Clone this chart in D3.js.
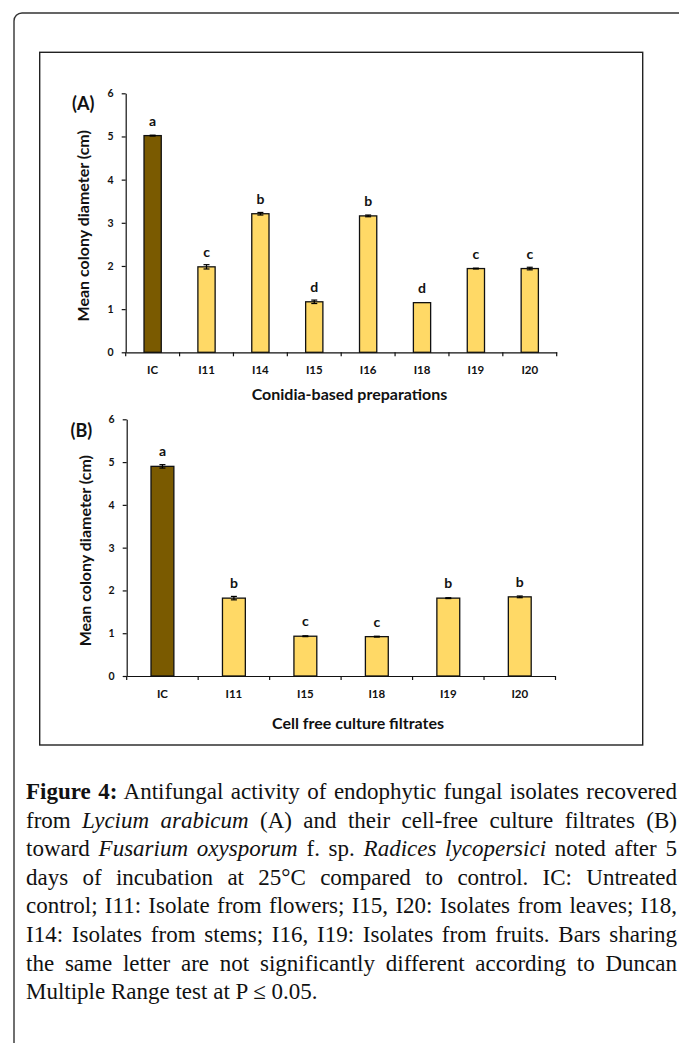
<!DOCTYPE html>
<html>
<head>
<meta charset="utf-8">
<script src="https://cdn.jsdelivr.net/npm/d3@7"></script>
<style>
  body { margin: 0; background: #fff; }
  #wrap { position: relative; width: 679px; height: 1043px; overflow: hidden; }
  svg { position: absolute; left: 0; top: 0; }
  .caption { position: absolute; left: 26px; top: 778px; width: 651px;
    font-family: "Liberation Serif", "Times New Roman", serif; font-size: 23px; color: #111; }
  .caption div { line-height: 28.6px; height: 28.6px; white-space: nowrap;
    text-align: justify; text-align-last: justify; }
  .caption div.last { text-align: left; text-align-last: left; }
</style>
</head>
<body>
<div id="wrap">
  <svg id="chart" width="679" height="1043"></svg>
  <div class="caption">
    <div><b>Figure 4:</b> Antifungal activity of endophytic fungal isolates recovered</div>
    <div>from <i>Lycium arabicum</i> (A) and their cell-free culture filtrates (B)</div>
    <div>toward <i>Fusarium oxysporum</i> f. sp. <i>Radices lycopersici</i> noted after 5</div>
    <div>days of incubation at 25°C compared to control. IC: Untreated</div>
    <div>control; I11: Isolate from flowers; I15, I20: Isolates from leaves; I18,</div>
    <div>I14: Isolates from stems; I16, I19: Isolates from fruits. Bars sharing</div>
    <div>the same letter are not significantly different according to Duncan</div>
    <div class="last">Multiple Range test at P ≤ 0.05.</div>
  </div>
</div>
<script>
// panel A: conidia-based preparations
const catsA = ['IC', 'I11', 'I14', 'I15', 'I16', 'I18', 'I19', 'I20'];
const meansA = [5.02, 1.98, 3.21, 1.17, 3.16, 1.15, 1.94, 1.94];
const errsA = [0.01, 0.05, 0.03, 0.04, 0.02, 0.0, 0.01, 0.03];
const lettersA = ['a', 'c', 'b', 'd', 'b', 'd', 'c', 'c'];

// panel B: cell free culture filtrates
const catsB = ['IC', 'I11', 'I15', 'I18', 'I19', 'I20'];
const meansB = [4.90, 1.82, 0.93, 0.92, 1.82, 1.85];
const errsB = [0.04, 0.04, 0.01, 0.01, 0.01, 0.02];
const lettersB = ['a', 'b', 'c', 'c', 'b', 'b'];

const yTicks = [0, 1, 2, 3, 4, 5, 6];

const FONT = 'Lato, "Open Sans", sans-serif';
const svg = d3.select('#chart');

// outer page frame (rounded top-left corner, runs off the page)
svg.append('rect')
  .attr('x', 14).attr('y', 13)
  .attr('width', 760).attr('height', 1100)
  .attr('rx', 8)
  .attr('fill', 'none')
  .attr('stroke', '#333')
  .attr('stroke-width', 1.4);

// figure box
svg.append('rect')
  .attr('x', 39.7).attr('y', 52.3)
  .attr('width', 603).attr('height', 692.7)
  .attr('fill', 'none')
  .attr('stroke', '#222')
  .attr('stroke-width', 1.4);

function drawPanel(cfg) {
  const g = svg.append('g');
  const data = cfg.cats.map((c, i) => ({ cat: c, mean: cfg.means[i], err: cfg.errs[i], letter: cfg.letters[i] }));

  const x = d3.scaleBand().domain(cfg.cats).range([cfg.x0, cfg.x1]).padding(0);
  const y = d3.scaleLinear().domain([0, 6]).range([cfg.yBottom, cfg.yTop]);
  const barW = x.bandwidth() * 0.32;

  // y axis
  const yAxis = g.append('g')
    .attr('transform', `translate(${cfg.x0},0)`)
    .call(d3.axisLeft(y).tickValues(yTicks).tickFormat(d3.format('d')).tickSize(4).tickSizeOuter(0).tickPadding(8));
  yAxis.select('.domain').attr('stroke', '#111').attr('stroke-width', 1.2);
  yAxis.selectAll('.tick line').attr('stroke', '#111').attr('stroke-width', 1.2);
  yAxis.selectAll('.tick text')
    .attr('font-family', FONT).attr('font-weight', 700).attr('font-size', 10.5).attr('fill', '#111');

  // x axis: labels centred in bands, tick marks at band edges
  const xAxis = g.append('g')
    .attr('transform', `translate(0,${cfg.yBottom})`)
    .call(d3.axisBottom(x).tickSize(0).tickSizeOuter(0).tickPadding(cfg.xLabelPad));
  xAxis.select('.domain').attr('stroke', '#111').attr('stroke-width', 1.2);
  xAxis.selectAll('.tick text')
    .attr('font-family', FONT).attr('font-weight', 700).attr('font-size', 11.5).attr('fill', '#111');
  xAxis.selectAll('.edge')
    .data(d3.range(cfg.cats.length + 1))
    .join('line')
    .attr('class', 'edge')
    .attr('x1', i => cfg.x0 + i * x.step())
    .attr('x2', i => cfg.x0 + i * x.step())
    .attr('y1', 0).attr('y2', 4)
    .attr('stroke', '#111').attr('stroke-width', 1.2);

  // bars
  g.selectAll('rect.bar')
    .data(data)
    .join('rect')
    .attr('class', 'bar')
    .attr('x', d => x(d.cat) + (x.bandwidth() - barW) / 2)
    .attr('y', d => y(d.mean))
    .attr('width', barW)
    .attr('height', d => y(0) - y(d.mean))
    .attr('fill', (d, i) => i === 0 ? '#7a5a00' : '#ffd966')
    .attr('stroke', '#111')
    .attr('stroke-width', 1.3);

  // error bars
  const eb = g.selectAll('g.err')
    .data(data.filter(d => d.err > 0))
    .join('g')
    .attr('class', 'err')
    .attr('stroke', '#000')
    .attr('stroke-width', 1.2);
  eb.append('line')
    .attr('x1', d => x(d.cat) + x.bandwidth() / 2)
    .attr('x2', d => x(d.cat) + x.bandwidth() / 2)
    .attr('y1', d => y(d.mean - d.err))
    .attr('y2', d => y(d.mean + d.err));
  eb.selectAll('line.cap')
    .data(d => [d.mean - d.err, d.mean + d.err].map(v => ({ cat: d.cat, v })))
    .join('line')
    .attr('class', 'cap')
    .attr('x1', d => x(d.cat) + x.bandwidth() / 2 - 3)
    .attr('x2', d => x(d.cat) + x.bandwidth() / 2 + 3)
    .attr('y1', d => y(d.v))
    .attr('y2', d => y(d.v));

  // significance letters
  g.selectAll('text.letter')
    .data(data)
    .join('text')
    .attr('class', 'letter')
    .attr('x', d => x(d.cat) + x.bandwidth() / 2)
    .attr('y', d => y(d.mean) - 10)
    .attr('text-anchor', 'middle')
    .attr('font-family', FONT).attr('font-weight', 700).attr('font-size', 14)
    .attr('fill', '#111')
    .text(d => d.letter);

  // y title
  g.append('text')
    .attr('transform', `translate(${cfg.yTitleX},${(cfg.yTop + cfg.yBottom) / 2 + 3}) rotate(-90)`)
    .attr('text-anchor', 'middle')
    .attr('dy', '0.35em')
    .attr('font-family', FONT).attr('font-weight', 700).attr('font-size', 16)
    .attr('fill', '#111')
    .text('Mean colony diameter (cm)');

  // x title
  g.append('text')
    .attr('x', cfg.xTitleX)
    .attr('y', cfg.xTitleY)
    .attr('text-anchor', 'middle')
    .attr('font-family', FONT).attr('font-weight', 700).attr('font-size', 16)
    .attr('fill', '#111')
    .text(cfg.xTitle);

  // panel label
  g.append('text')
    .attr('x', cfg.tagX)
    .attr('y', cfg.tagY)
    .attr('font-family', FONT).attr('font-weight', 700).attr('font-size', 18)
    .attr('fill', '#111')
    .text(cfg.tag);
}

drawPanel({
  cats: catsA, means: meansA, errs: errsA, letters: lettersA,
  x0: 125.7, x1: 556.7, yTop: 93.3, yBottom: 352.3,
  xLabelPad: 14, yTitleX: 83,
  xTitle: 'Conidia-based preparations', xTitleX: 349.5, xTitleY: 400,
  tag: '(A)', tagX: 72, tagY: 110
});

drawPanel({
  cats: catsB, means: meansB, errs: errsB, letters: lettersB,
  x0: 126.7, x1: 555.5, yTop: 419.3, yBottom: 676,
  xLabelPad: 14, yTitleX: 85,
  xTitle: 'Cell free culture filtrates', xTitleX: 358, xTitleY: 729,
  tag: '(B)', tagX: 70.5, tagY: 437
});
</script>
</body>
</html>
